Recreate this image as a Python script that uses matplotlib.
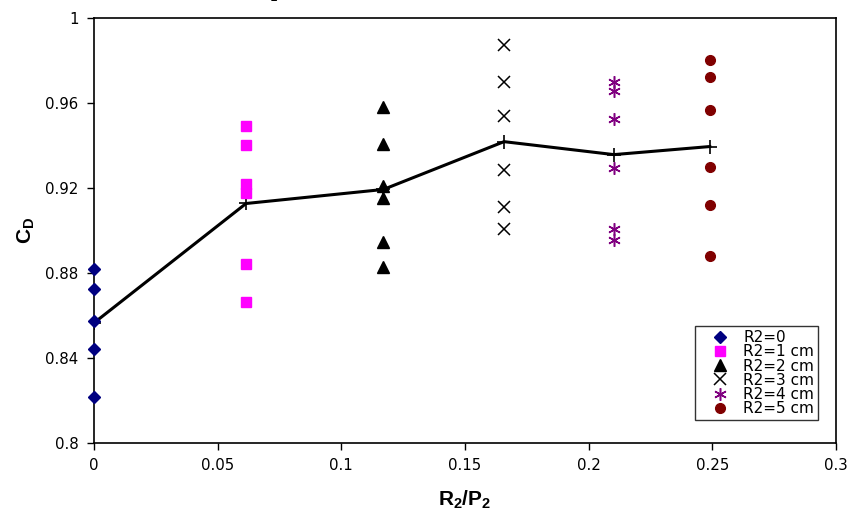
import matplotlib
matplotlib.use("Agg")
import matplotlib.pyplot as plt

plt.rcParams['font.family'] = ['DejaVu Sans']
plt.rcParams['mathtext.fontset'] = 'custom'
plt.rcParams['mathtext.rm'] = 'Liberation Sans'
plt.rcParams['mathtext.bf'] = 'Liberation Sans:bold'

# ratio R2/P2 for each group
x_r0 = 0.0
x_r1 = 0.0615
x_r2 = 0.117
x_r3 = 0.1658
x_r4 = 0.2102
x_r5 = 0.249

cd_r0 = [0.882, 0.8725, 0.8575, 0.844, 0.8215]
cd_r1 = [0.949, 0.940, 0.922, 0.9175, 0.884, 0.8665]
cd_r2 = [0.958, 0.9405, 0.921, 0.9155, 0.8945, 0.883]
cd_r3 = [0.9875, 0.970, 0.954, 0.9285, 0.911, 0.9005]
cd_r4 = [0.970, 0.9655, 0.9525, 0.9295, 0.9005, 0.8955]
cd_r5 = [0.980, 0.972, 0.9565, 0.930, 0.912, 0.888]

# mean line
mean_x = [0.0, 0.0615, 0.117, 0.1658, 0.2102, 0.249]
mean_cd = [0.8565, 0.9127, 0.9193, 0.9418, 0.9357, 0.9395]

labels = ['R2=0', 'R2=1 cm', 'R2=2 cm', 'R2=3 cm', 'R2=4 cm', 'R2=5 cm']

fig = plt.figure(figsize=(8.48, 5.18), dpi=100)
ax = fig.add_axes([0.1108, 0.1448, 0.8750, 0.8205])

ax.plot(mean_x, mean_cd, color='black', linewidth=2.2, marker='+',
        markersize=10, markeredgewidth=1.2, zorder=3)

ax.plot([x_r0] * len(cd_r0), cd_r0, linestyle='none', marker='D', markersize=6,
        color='#000080', label=labels[0], clip_on=False, zorder=4)
ax.plot([x_r1] * len(cd_r1), cd_r1, linestyle='none', marker='s', markersize=7,
        color='#FF00FF', label=labels[1], zorder=4)
ax.plot([x_r2] * len(cd_r2), cd_r2, linestyle='none', marker='^', markersize=8,
        color='black', label=labels[2], zorder=4)
ax.plot([x_r3] * len(cd_r3), cd_r3, linestyle='none', marker='x', markersize=8,
        markeredgewidth=1.1, color='black', label=labels[3], zorder=4)
ax.plot([x_r4] * len(cd_r4), cd_r4, linestyle='none', marker=(6, 2, 0), markersize=9,
        markeredgewidth=1.1, color='#800080', label=labels[4], zorder=4)
ax.plot([x_r5] * len(cd_r5), cd_r5, linestyle='none', marker='o', markersize=7,
        color='#800000', label=labels[5], zorder=4)

ax.set_xlim(0, 0.3)
ax.set_ylim(0.8, 1.0)
ax.set_xticks([0, 0.05, 0.1, 0.15, 0.2, 0.25, 0.3])
ax.set_xticklabels(['0', '0.05', '0.1', '0.15', '0.2', '0.25', '0.3'])
ax.set_yticks([0.8, 0.84, 0.88, 0.92, 0.96, 1.0])
ax.set_yticklabels(['0.8', '0.84', '0.88', '0.92', '0.96', '1'])
ax.tick_params(axis='both', direction='out', length=5, width=1, labelsize=10.8, pad=6)
for s in ax.spines.values():
    s.set_linewidth(1.2)
    s.set_color('black')

ax.set_xlabel(r'$\mathbf{R_2/P_2}$', fontsize=15, labelpad=11)
ax.set_ylabel(r'$\mathbf{C_D}$', fontsize=15, labelpad=6)

leg = ax.legend(loc='lower right', bbox_to_anchor=(0.976, 0.054), fontsize=11,
                frameon=True, fancybox=False, edgecolor='black', handlelength=2.7,
                handletextpad=0.2, borderpad=0.25, labelspacing=-0.05, borderaxespad=0,
                numpoints=1)
leg.get_frame().set_linewidth(1.0)

# cut-off title fragment at the top of the picture
fig.text(0.327, 1.008, 'p', fontsize=16, fontweight='bold', family='Liberation Serif',
         ha='center', va='baseline')

fig.savefig('out.png', dpi=100)
